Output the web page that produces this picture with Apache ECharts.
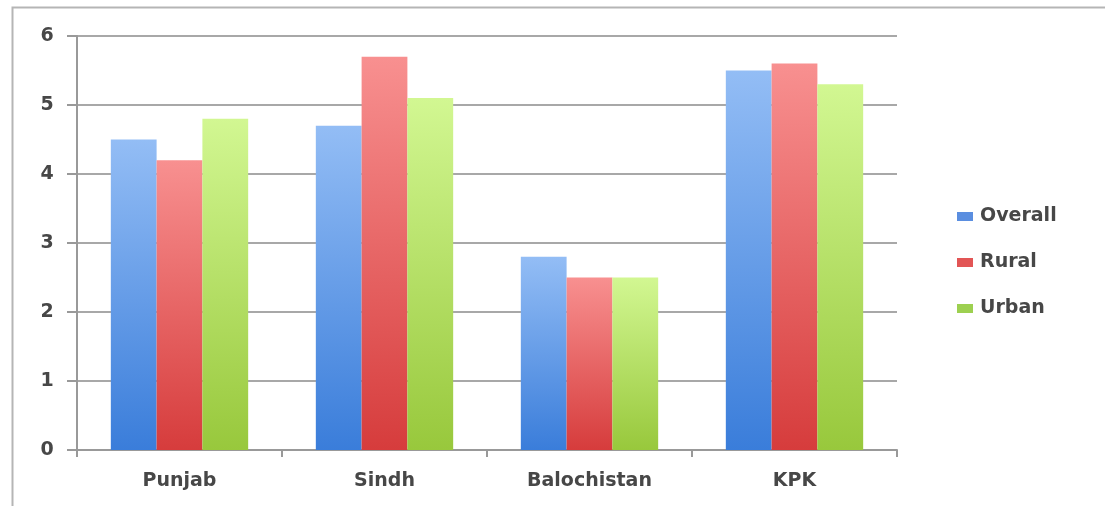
<!DOCTYPE html>
<html><head><meta charset="utf-8">
<script src="https://cdn.jsdelivr.net/npm/echarts@6/dist/echarts.min.js"></script>
<style>html,body{margin:0;padding:0;background:#fff}#c{width:1105px;height:506px}</style>
</head><body><div id="c"></div>
<script>
const categories = ['Punjab', 'Sindh', 'Balochistan', 'KPK'];
const overall = [4.5, 4.7, 2.8, 5.5];
const rural = [4.2, 5.7, 2.5, 5.6];
const urban = [4.8, 5.1, 2.5, 5.3];
const seriesNames = ['Overall', 'Rural', 'Urban'];

function grad(top, bottom) {
  return new echarts.graphic.LinearGradient(0, 0, 0, 1, [
    {offset: 0, color: top}, {offset: 1, color: bottom}
  ]);
}
const chart = echarts.init(document.getElementById('c'), null, {renderer: 'canvas'});
const font = '"DejaVu Sans", sans-serif';
const txt = '#474747';
chart.setOption({
  animation: false,
  backgroundColor: '#fff',
  graphic: [{
    type: 'rect', left: 10, top: 5, z: -1,
    shape: {width: 1200, height: 600},
    style: {fill: 'none', stroke: '#b5b5b5', lineWidth: 2}
  }],
  grid: {left: 77, right: 208, top: 36, bottom: 56, containLabel: false},
  legend: {
    orient: 'vertical', left: 952, top: 202, itemWidth: 16, itemHeight: 9,
    itemGap: 27, icon: 'rect',
    textStyle: {fontSize: 19, color: txt, fontFamily: font, fontWeight: 'bold', padding: [0, 0, 0, 2]},
    data: [
      {name: 'Overall', itemStyle: {color: '#5a8ee0'}},
      {name: 'Rural', itemStyle: {color: '#e25555'}},
      {name: 'Urban', itemStyle: {color: '#9dd050'}}
    ]
  },
  xAxis: {
    type: 'category', data: categories,
    axisLine: {lineStyle: {color: '#999', width: 2}},
    axisTick: {show: true, length: 7, lineStyle: {color: '#999', width: 2}},
    axisLabel: {fontSize: 19, color: txt, margin: 22, fontFamily: font, fontWeight: 'bold'}
  },
  yAxis: {
    type: 'value', min: 0, max: 6, interval: 1,
    axisLine: {show: true, lineStyle: {color: '#999', width: 2}},
    axisTick: {show: true, length: 10, lineStyle: {color: '#999', width: 2}},
    axisLabel: {fontSize: 19, color: txt, margin: 30, fontFamily: font, fontWeight: 'bold',
                align: 'center', padding: [10, 0, 0, 0]},
    splitLine: {lineStyle: {color: '#a8a8a8', width: 2}}
  },
  series: [
    {name: seriesNames[0], type: 'bar', data: overall, barGap: '0%', barCategoryGap: '33%',
     itemStyle: {color: grad('#93bdf5', '#3a7dda')}},
    {name: seriesNames[1], type: 'bar', data: rural,
     itemStyle: {color: grad('#f89090', '#d63c3c')}},
    {name: seriesNames[2], type: 'bar', data: urban,
     itemStyle: {color: grad('#d2f792', '#98c83c')}}
  ]
});
</script></body></html>
